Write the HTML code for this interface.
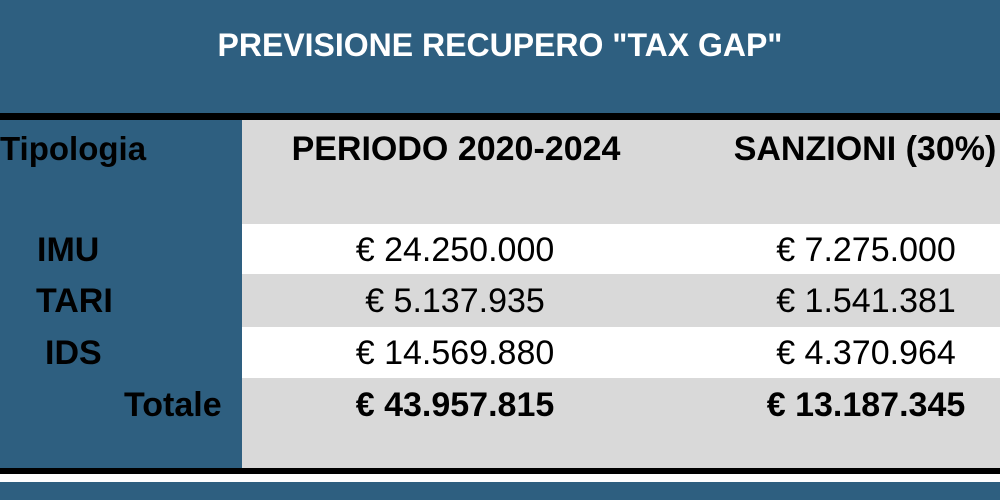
<!DOCTYPE html><html><head><style>
body{margin:0;width:1000px;height:500px;background:#2e5f80;position:relative;overflow:hidden;font-family:"Liberation Sans",sans-serif}
div{position:absolute}
.t{white-space:nowrap;color:#000;font-size:34px;line-height:1}
.c{position:absolute;transform:translateX(-50%)}
</style></head><body>
<div class="t" style="left:0;width:1000px;top:29px;text-align:center;color:#fff;font-weight:bold;font-size:32px">PREVISIONE RECUPERO "TAX GAP"</div>
<div style="left:0;top:113px;width:1000px;height:7px;background:#000"></div>
<div style="left:242px;top:120px;width:758px;height:104px;background:#d9d9d9"></div>
<div style="left:242px;top:224px;width:758px;height:50px;background:#fff"></div>
<div style="left:242px;top:274px;width:758px;height:53px;background:#d9d9d9"></div>
<div style="left:242px;top:327px;width:758px;height:51px;background:#fff"></div>
<div style="left:242px;top:378px;width:758px;height:90px;background:#d9d9d9"></div>
<div style="left:0;top:468px;width:1000px;height:6px;background:#000"></div>
<div style="left:0;top:474px;width:1000px;height:8px;background:#fff"></div>
<div class="t" style="left:0;top:132px;font-weight:bold;font-size:33px">Tipologia</div>
<div class="t" style="left:456px;width:0;top:132px;font-weight:bold"><span class="c">PERIODO 2020-2024</span></div>
<div class="t" style="left:865px;width:0;top:132px;font-weight:bold"><span class="c">SANZIONI (30%)</span></div>
<div class="t" style="left:37px;top:233px;font-weight:bold">IMU</div>
<div class="t" style="left:36px;top:284px;font-weight:bold">TARI</div>
<div class="t" style="left:45px;top:336px;font-weight:bold">IDS</div>
<div class="t" style="left:124px;top:388px;font-weight:bold">Totale</div>
<div class="t" style="left:455px;width:0;top:233px"><span class="c">€ 24.250.000</span></div>
<div class="t" style="left:455px;width:0;top:284px"><span class="c">€ 5.137.935</span></div>
<div class="t" style="left:455px;width:0;top:336px"><span class="c">€ 14.569.880</span></div>
<div class="t" style="left:455px;width:0;top:388px;font-weight:bold"><span class="c">€ 43.957.815</span></div>
<div class="t" style="left:866px;width:0;top:233px"><span class="c">€ 7.275.000</span></div>
<div class="t" style="left:866px;width:0;top:284px"><span class="c">€ 1.541.381</span></div>
<div class="t" style="left:866px;width:0;top:336px"><span class="c">€ 4.370.964</span></div>
<div class="t" style="left:866px;width:0;top:388px;font-weight:bold"><span class="c">€ 13.187.345</span></div>
</body></html>
